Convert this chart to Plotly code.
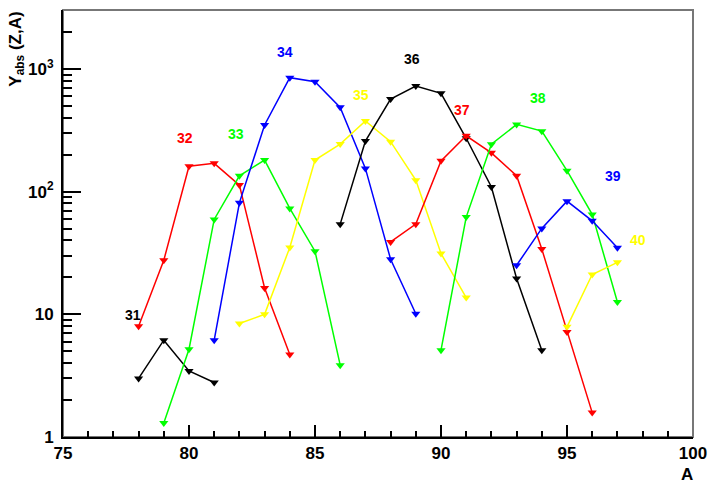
import math
import plotly.graph_objects as go

# Charge number Z for each isotopic chain
charges = [31, 32, 33, 34, 35, 36, 37, 38, 39, 40]
colors = ["#000000", "#ff0000", "#00ff00", "#0000ff", "#ffff00",
          "#000000", "#ff0000", "#00ff00", "#0000ff", "#ffff00"]

a_31 = [78, 79, 80, 81]
y_31 = [3.0, 6.15, 3.45, 2.78]
a_32 = [78, 79, 80, 81, 82, 83, 84]
y_32 = [8.0, 27.6, 161, 170, 113, 16.4, 4.7]
a_33 = [79, 80, 81, 82, 83, 84, 85, 86]
y_33 = [1.30, 5.19, 59.3, 134.6, 180.7, 72.9, 32.7, 3.85]
a_34 = [81, 82, 83, 84, 85, 86, 87, 88, 89]
y_34 = [6.15, 81, 349, 848, 786, 486, 154.6, 28.1, 10.1]
a_35 = [82, 83, 84, 85, 86, 87, 88, 89, 90, 91]
y_35 = [8.41, 10.0, 35.1, 180.7, 244, 376, 255, 124, 31.3, 13.7]
a_36 = [86, 87, 88, 89, 90, 91, 92, 93, 94]
y_36 = [54.3, 258, 568, 726, 632, 272, 109, 19.6, 5.1]
a_37 = [88, 89, 90, 91, 92, 93, 94, 95, 96]
y_37 = [38.9, 54.3, 178, 285, 207, 134.6, 34, 7.19, 1.58]
a_38 = [90, 91, 92, 93, 94, 95, 96, 97]
y_38 = [5.1, 62, 243, 353, 311, 148, 65.2, 12.6]
a_39 = [93, 94, 95, 96, 97]
y_39 = [25.1, 50.1, 83.6, 57.8, 34.8]
a_40 = [95, 96, 97]
y_40 = [7.9, 21.1, 26.5]

# label positions (data coordinates)
label_x = [77.78, 79.84, 81.87, 83.81, 86.83, 88.83, 90.82, 93.86, 96.84, 97.83]
label_y = [9.8, 272, 294, 1381, 612, 1197, 462, 576, 134.6, 40.2]

x_ticks = [75, 80, 85, 90, 95, 100]
y_tickvals = [1, 10, 100, 1000]
y_ticktext = ["1", "10", "10<sup>2</sup>", "10<sup>3</sup>"]

series_a = [a_31, a_32, a_33, a_34, a_35, a_36, a_37, a_38, a_39, a_40]
series_y = [y_31, y_32, y_33, y_34, y_35, y_36, y_37, y_38, y_39, y_40]

FONT = "Liberation Sans"

fig = go.Figure()
for z, c, xa, ya in zip(charges, colors, series_a, series_y):
    fig.add_trace(go.Scatter(
        x=xa, y=ya, mode="lines+markers", name=str(z),
        line=dict(color=c, width=1.5),
        marker=dict(symbol="triangle-down", size=8, color=c),
        showlegend=False,
    ))

for z, c, lx, ly in zip(charges, colors, label_x, label_y):
    fig.add_annotation(x=lx, y=math.log10(ly), yref="y", xref="x", text=str(z),
                       showarrow=False,
                       font=dict(family=FONT, size=14, color=c, weight="bold"))

fig.add_annotation(xref="paper", yref="paper", x=-0.095, y=1.0,
                   text="Y<sub>abs</sub> (Z,A)", textangle=-90, showarrow=False,
                   xanchor="left", yanchor="top",
                   font=dict(family=FONT, size=17, color="black", weight="bold"))
fig.add_annotation(xref="paper", yref="paper", x=0.99, y=-0.06,
                   text="A", showarrow=False, xanchor="center", yanchor="top",
                   font=dict(family=FONT, size=17, color="black", weight="bold"))

# frame (top and right)
fig.add_shape(type="rect", xref="paper", yref="paper", x0=0, y0=0, x1=1, y1=1,
              line=dict(color="#777777", width=2), layer="below")

fig.update_xaxes(range=[75, 100], tickvals=x_ticks, ticks="inside", ticklen=12,
                 tickwidth=2, tickcolor="black", showline=True, linecolor="black",
                 linewidth=2, showgrid=False, zeroline=False,
                 minor=dict(dtick=1, ticks="inside", ticklen=6, tickwidth=2,
                            tickcolor="black", showgrid=False),
                 tickfont=dict(family=FONT, size=17, color="black", weight="bold"))
fig.update_yaxes(type="log", range=[0, 3.48], tickvals=y_tickvals, ticktext=y_ticktext,
                 ticks="inside", ticklen=18, tickwidth=2, tickcolor="black",
                 showline=True, linecolor="black", linewidth=2, showgrid=False,
                 zeroline=False, ticklabelstandoff=4,
                 minor=dict(dtick="D1", ticks="inside", ticklen=9, tickwidth=2,
                            tickcolor="black", showgrid=False),
                 tickfont=dict(family=FONT, size=17, color="black", weight="bold"))

fig.update_layout(width=719, height=487, margin=dict(l=63, r=26, t=10, b=50),
                  plot_bgcolor="white", paper_bgcolor="white")

fig.write_html("out.html")
